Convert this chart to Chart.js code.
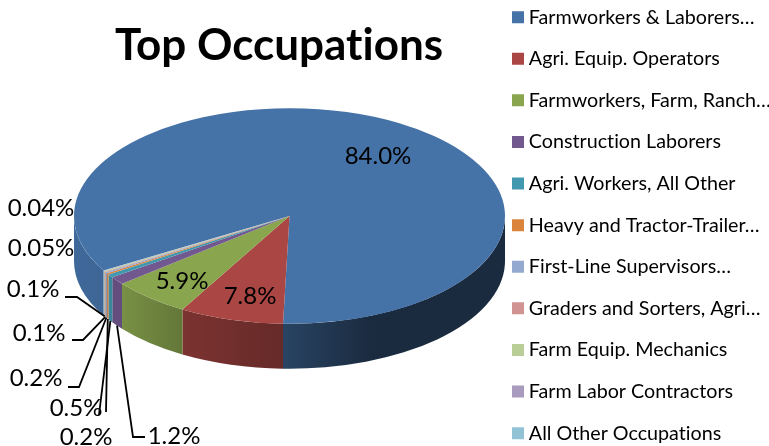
<!DOCTYPE html>
<html>
<head>
<meta charset="utf-8">
<title>Top Occupations</title>
<style>
    html, body { margin: 0; padding: 0; background: #ffffff; overflow: hidden; }
    canvas { display: block; }
</style>
<script src="https://cdn.jsdelivr.net/npm/chart.js@4/dist/chart.umd.min.js"></script>
</head>
<body>
<canvas id="pieChart" width="769" height="446"></canvas>
<script>
const categories = [
    'Farmworkers & Laborers…', 'Agri. Equip. Operators', 'Farmworkers, Farm, Ranch…',
    'Construction Laborers', 'Agri. Workers, All Other', 'Heavy and Tractor-Trailer…',
    'First-Line Supervisors…', 'Graders and Sorters, Agri…', 'Farm Equip. Mechanics',
    'Farm Labor Contractors', 'All Other Occupations'
];
const shares = [84.0, 7.8, 5.9, 1.2, 0.5, 0.2, 0.2, 0.1, 0.1, 0.05, 0.04];
const colors = [
    '#4572A7', '#AA4643', '#89A54E', '#71588F', '#4198AF', '#DB843D',
    '#93A9CF', '#D19392', '#B9CD96', '#A99BBD', '#92C3D4'
];

const FONT = 'Lato, Carlito, sans-serif';
const TILT = 0.5;     // ellipse height / width
const DEPTH = 45;     // wall height in px

// where each value label goes; elbow = start of the leader line next to the text
const labelSpots = [
    { x: 378, y: 156 },
    { x: 250, y: 296 },
    { x: 182, y: 281 },
    { x: 174, y: 436, elbow: [[145, 437], [133, 437]] },
    { x: 76, y: 408, elbow: [[99, 415]] },
    { x: 86, y: 437, elbow: [[106, 412]] },
    { x: 36, y: 378, elbow: [[68, 387], [79, 387]] },
    { x: 39, y: 333, elbow: [[72, 340], [83, 340]] },
    { x: 33, y: 289, elbow: [[65, 297], [77, 297]] },
    { x: 41, y: 248 },
    { x: 41, y: 208 }
];

function shade(hex, k) {
    const n = parseInt(hex.slice(1), 16);
    const c = [n >> 16, (n >> 8) & 255, n & 255].map(v => Math.round(v * k));
    return `rgb(${c[0]},${c[1]},${c[2]})`;
}

function formatShare(v) {
    return (v < 0.1 ? v.toFixed(2) : v.toFixed(1)) + '%';
}

// Walls of the fake 3D pie, taken from the arc elements
function drawWalls(chart) {
    const ctx = chart.ctx;
    chart.getDatasetMeta(0).data.forEach((arc, i) => {
        const r = arc.outerRadius;
        const ry = r * TILT;
        const grad = ctx.createLinearGradient(arc.x - r, 0, arc.x + r, 0);
        [[0, 0.92], [0.107, 0.88], [0.246, 0.73], [0.48, 0.6], [0.69, 0.38], [1, 0.38]].forEach(s => {
            grad.addColorStop(s[0], shade(colors[i], s[1]));
        });
        ctx.fillStyle = grad;
        // only the front half (0..PI on the canvas) can be seen
        [-2, 0, 2].forEach(k => {
            const from = Math.max(arc.startAngle, k * Math.PI);
            const to = Math.min(arc.endAngle, (k + 1) * Math.PI);
            if (to <= from) return;
            ctx.beginPath();
            ctx.ellipse(arc.x, arc.y, r, ry, 0, from, to);
            ctx.ellipse(arc.x, arc.y + DEPTH, r, ry, 0, to, from, true);
            ctx.closePath();
            ctx.fill();
        });
    });
}

function drawLabels(chart) {
    const ctx = chart.ctx;
    ctx.save();
    ctx.fillStyle = '#000000';
    ctx.textAlign = 'center';
    ctx.textBaseline = 'middle';
    ctx.font = `bold 44px ${FONT}`;
    ctx.fillText('Top Occupations', 279, 46);

    ctx.font = `24px ${FONT}`;
    ctx.strokeStyle = '#000000';
    ctx.lineWidth = 1.8;
    chart.getDatasetMeta(0).data.forEach((arc, i) => {
        const spot = labelSpots[i];
        ctx.fillText(formatShare(shares[i]), spot.x, spot.y);
        if (!spot.elbow) return;
        const mid = (arc.startAngle + arc.endAngle) / 2;
        const px = arc.x + arc.outerRadius * Math.cos(mid);
        const py = arc.y + arc.outerRadius * TILT * Math.sin(mid) + DEPTH;
        ctx.beginPath();
        spot.elbow.forEach((p, j) => j === 0 ? ctx.moveTo(p[0], p[1]) : ctx.lineTo(p[0], p[1]));
        ctx.lineTo(px, py);
        ctx.stroke();
    });
    ctx.restore();
}

const pie3d = {
    id: 'pie3d',
    afterLayout(chart) {
        // legend sits over the right margin, first row near the top edge
        const legend = chart.legend;
        legend.left = 495.1;
        legend.right = 769;
        legend.top = -14.6;
        // pie box is set here, the padding below only makes room for the legend
        Object.assign(chart.chartArea, { left: 74, right: 505, width: 431, top: 0.5, bottom: 431.5, height: 431 });
    },
    beforeDraw(chart) {
        // no "ti" ligature, the reference font does not join them
        chart.ctx.textRendering = 'optimizeSpeed';
    },
    beforeDatasetsDraw(chart) {
        const arc = chart.getDatasetMeta(0).data[0];
        drawWalls(chart);
        chart.ctx.save();
        chart.ctx.translate(arc.x, arc.y);
        chart.ctx.scale(1, TILT);
        chart.ctx.translate(-arc.x, -arc.y);
    },
    afterDatasetsDraw(chart) {
        chart.ctx.restore();
    },
    afterDraw: drawLabels
};

new Chart(document.getElementById('pieChart'), {
    type: 'pie',
    data: {
        labels: categories,
        datasets: [{
            data: shares,
            backgroundColor: colors,
            borderWidth: 0,
            clip: false
        }]
    },
    options: {
        responsive: false,
        animation: false,
        rotation: 239.6,
        // negative top/bottom: the legend needs more height than the canvas has or it wraps
        layout: { padding: { left: 74, top: -44, bottom: -30, right: 0 } },
        events: [],
        plugins: {
            tooltip: { enabled: false },
            legend: {
                position: 'right',
                align: 'start',
                maxWidth: 264,
                labels: {
                    font: { family: FONT, size: 19.7 },
                    color: '#000000',
                    padding: 21.9,
                    boxWidth: 2,
                    boxHeight: 2,
                    // thick outline gives the 12px square with a short gap to the text
                    generateLabels(chart) {
                        return Chart.overrides.pie.plugins.legend.labels.generateLabels(chart).map(item => {
                            item.strokeStyle = item.fillStyle;
                            item.lineWidth = 10;
                            return item;
                        });
                    }
                }
            }
        }
    },
    plugins: [pie3d]
});
</script>
</body>
</html>
